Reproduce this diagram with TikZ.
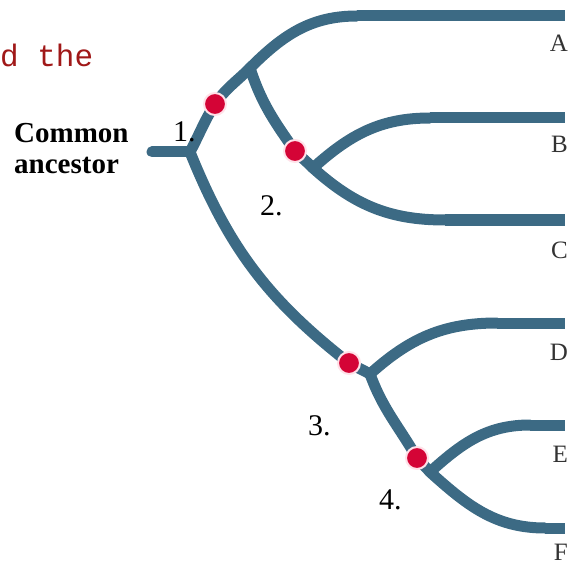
\documentclass[tikz,border=0pt]{standalone}
\usepackage{fontspec}
\setmainfont{Liberation Serif}
\newfontfamily\monofont{Liberation Mono}
\definecolor{branchblue}{RGB}{60,106,132}
\definecolor{dotred}{RGB}{212,4,54}
\definecolor{dotring}{RGB}{255,225,232}
\definecolor{notered}{RGB}{160,24,24}
\begin{document}
\begin{tikzpicture}
[x=1pt,y=1pt,
 linedecorate/.style={-,line width=11pt,branchblue,line cap=round},%
 leafdecorate/.style={-,line width=11pt,branchblue,line cap=butt},%
 dotdecorate/.style={shape=circle,fill=dotred,draw=dotring,line width=2pt,
   minimum size=22pt,inner sep=0pt},%
 labeldecorate/.style={inner sep=0pt,anchor=base east,text=black!80,
   font=\fontsize{25}{25}\selectfont},%
 numdecorate/.style={inner sep=0pt,anchor=base west,
   font=\fontsize{30}{30}\selectfont}]
\useasboundingbox (0,0) rectangle (570,-564);
%% nodes or vertices
\foreach \nodename/\x/\y in {stem/152/-152, root/190/-152, p1/215/-104,
 split1/250/-68, p2/295/-151, split2/313/-168, p3/349/-363,
 split3/370/-374, p4/417/-458, split4/430/-472,
 Astart/357/-16, Aend/565/-16, Bstart/430/-118, Bend/565/-118,
 Cstart/445/-220, Cend/565/-220, Dstart/497/-323, Dend/565/-323,
 Estart/530/-425, Eend/565/-425, Fstart/545/-528, Fend/565/-528}
{
  \coordinate (\nodename) at (\x,\y);
}
%% edges or lines
\path
\foreach \startnode/\endnode/\o/\i in {stem/root/0/180, root/p1/62/238,
 p1/split1/55/225, split1/Astart/45/180, split1/p2/-72/125,
 p2/split2/-45/135, split2/Bstart/42/180, split2/Cstart/-42/180,
 root/p3/-68/142, p3/split3/-30/150, split3/Dstart/42/180,
 split3/p4/-70/120, p4/split4/-50/130, split4/Estart/42/180,
 split4/Fstart/-42/180}
{
  (\startnode) edge[linedecorate,out=\o,in=\i] (\endnode)
};
\path
\foreach \leaf in {A,B,C,D,E,F}
{
  (\leaf start) edge[leafdecorate] (\leaf end)
};
%% red dots
\foreach \dotname/\at in {dot1/p1, dot2/p2, dot3/p3, dot4/p4}
{
  \node (\dotname) at (\at) [dotdecorate] {};
}
%% labels
\foreach \leaf/\y in {A/-52, B/-153, C/-258, D/-360, E/-462, F/-560}
{
  \node (lab\leaf) at (568,\y) [labeldecorate] {\leaf};
}
\foreach \num/\x/\y in {1/173/-142, 2/260/-215, 3/308/-435, 4/379/-509}
{
  \node (num\num) at (\x,\y) [numdecorate] {\num.};
}
\node (ancestor) at (14,-149) [anchor=west,inner sep=0pt,align=left,
  font=\bfseries\fontsize{29}{31}\selectfont] {Common\\ancestor};
\node (note) at (0,-67) [anchor=base west,inner sep=0pt,text=notered,
  font=\monofont\fontsize{31}{31}\selectfont] {d the};
\end{tikzpicture}
\end{document}
